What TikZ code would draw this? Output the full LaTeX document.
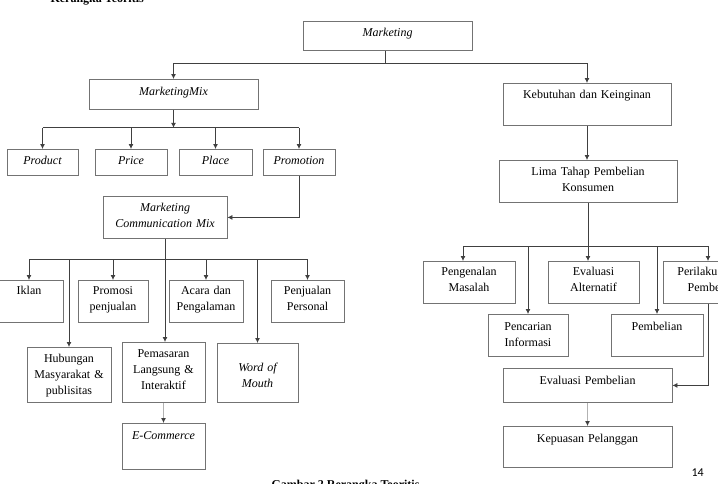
\documentclass[tikz,border=0pt]{standalone}
\usepackage{fontspec}
\setmainfont{Liberation Serif}
\newfontfamily\pagefont{Carlito}
\usetikzlibrary{arrows.meta}

\tikzset{
  box/.style={draw=black!55, line width=0.8pt, inner sep=0pt, anchor=north, align=center,
    font=\fontsize{12}{16}\selectfont, text height=15pt},
  ital/.style={font=\fontsize{12}{16}\selectfont\itshape},
  link/.style={draw=black!75, line width=0.8pt},
  arr/.style={link, -{Latex[length=5pt,width=5pt]}},
  weak/.style={draw=black!30, line width=0.8pt, -{Latex[length=5pt,width=5pt,color=black!75]}},
}

\begin{document}
\begin{tikzpicture}[x=1pt,y=-1pt]
\useasboundingbox (0,0) rectangle (718,483);
\clip (0,0) rectangle (718,483);

\node[font=\fontsize{12}{14}\selectfont\bfseries, anchor=base west] (judul) at (47,2) {Kerangka Teoritis};

% marketing mix side
\node[box,ital,text width=169pt,text depth=14pt] (marketing) at (387.5,21) {Marketing};
\node[box,ital,text width=169pt,text height=16pt,text depth=14pt] (mmix) at (173.5,79) {MarketingMix};
\node[box,ital,text width=71pt,text depth=11pt] (product) at (42.5,149) {Product};
\node[box,ital,text width=72pt,text depth=11pt] (price) at (131,149) {Price};
\node[box,ital,text width=73pt,text depth=11pt] (place) at (215.5,149) {Place};
\node[box,ital,text width=72pt,text depth=11pt] (promotion) at (299,149) {Promotion};
\node[box,ital,text width=124pt,text depth=27pt] (mcm) at (165,196) {Marketing\\Communication Mix};

\node[box,text width=68pt,text height=14pt,text depth=28pt] (iklan) at (29,280) {Iklan};
\node[box,text width=70pt,text height=14pt,text depth=28pt] (promosi) at (113,280) {Promosi\\penjualan};
\node[box,text width=74pt,text height=14pt,text depth=28pt] (acara) at (206,280) {Acara dan\\Pengalaman};
\node[box,text width=73pt,text height=14pt,text depth=28pt] (penjualan) at (307.5,280) {Penjualan\\Personal};
\node[box,text width=84pt,text depth=40pt] (hubungan) at (69,347) {Hubungan\\Masyarakat \&\\publisitas};
\node[box,text width=83pt,text depth=45pt] (pemasaran) at (163.5,342) {Pemasaran\\Langsung \&\\Interaktif};
\node[box,ital,text width=81pt,text height=28pt,text depth=31pt] (wom) at (257.5,343) {Word of\\Mouth};
\node[box,ital,text width=83pt,text height=16pt,text depth=30pt] (ecommerce) at (163.5,423) {E-Commerce};

% consumer side
\node[box,text width=168pt,text depth=27pt] (kebutuhan) at (587,83) {Kebutuhan dan Keinginan};
\node[box,text width=178pt,text depth=27pt] (lima) at (588,160) {Lima Tahap Pembelian\\Konsumen};
\node[box,text width=92pt,text height=14pt,text depth=28pt] (pengenalan) at (469,261) {Pengenalan\\Masalah};
\node[box,text width=91pt,text height=14pt,text depth=28pt] (evalalt) at (593.5,261) {Evaluasi\\Alternatif};
\node[box,text width=100pt,text height=14pt,text depth=28pt] (perilaku) at (713,261) {Perilaku Pasca\\Pembelian};
\node[box,text width=80pt,text height=16pt,text depth=26pt] (pencarian) at (528,314) {Pencarian\\Informasi};
\node[box,text width=92pt,text height=16pt,text depth=26pt] (pembelian) at (657,314) {Pembelian};
\node[box,text width=169pt,text height=16pt,text depth=18pt] (evalpemb) at (587.5,368) {Evaluasi Pembelian};
\node[box,text width=169pt,text height=16pt,text depth=25pt] (kepuasan) at (587.5,426) {Kepuasan Pelanggan};

\node[font=\pagefont\fontsize{12}{14}\selectfont, anchor=base west] (halaman) at (688,476) {14};
\node[font=\fontsize{12}{14}\selectfont\bfseries, anchor=base west] (caption) at (268,488) {Gambar 2 Rerangka Teoritis};

% connectors
\coordinate (m1) at (385,63);
\draw[link] (marketing.south -| m1) -- (m1);
\draw[arr] (m1) -| (mmix.north);
\draw[arr] (m1) -| (kebutuhan.north);

\draw[arr] (mmix.south) -- ++(0,18) coordinate (m2);
\draw[link] (product.north |- m2) -- (promotion.north |- m2);
\foreach \n in {product,price,place,promotion}
  \draw[arr] (\n.north |- m2) -- (\n.north);
\draw[arr] (promotion.south) |- (mcm.east);

\draw[arr] (mcm.south) -- (mcm.south |- pemasaran.north);
\path (mcm.south) ++(0,21) coordinate (c1);
\draw[link] (iklan.north |- c1) -- (penjualan.north |- c1);
\foreach \n in {iklan,promosi,acara,penjualan,hubungan,wom}
  \draw[arr] (\n.north |- c1) -- (\n.north);
\draw[weak] (pemasaran.south) -- (ecommerce.north);

\draw[arr] (kebutuhan.south) -- (kebutuhan.south |- lima.north);
\draw[arr] (lima.south) -- (lima.south |- evalalt.north);
\coordinate (l1) at (463,246);
\coordinate (l2) at (708,246);
\draw[link] (l1) -- (l2);
\draw[arr] (l1) -- (l1 |- pengenalan.north);
\draw[arr] (l2) -- (l2 |- perilaku.north);
\draw[arr] (pencarian.north |- l1) -- (pencarian.north);
\draw[arr] (pembelian.north |- l1) -- (pembelian.north);
\draw[arr] (l2 |- perilaku.south) |- (evalpemb.east);
\draw[weak] (evalpemb.south) -- (kepuasan.north);
\end{tikzpicture}
\end{document}
